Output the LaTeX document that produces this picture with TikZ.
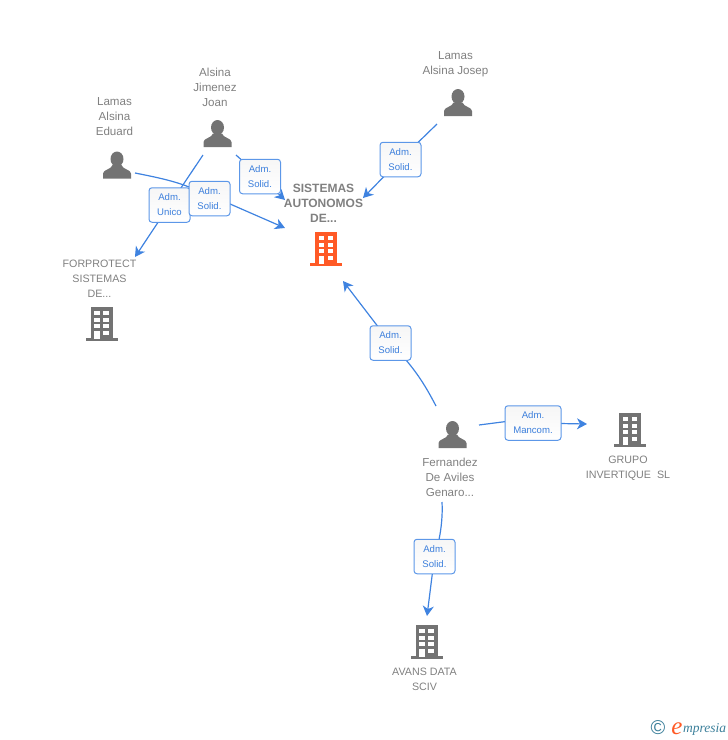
\documentclass[tikz,border=0pt]{standalone}
\usepackage{fontspec}
\setmainfont{Liberation Sans}
\newfontfamily\logofont{Liberation Serif}
\usetikzlibrary{arrows.meta}
\definecolor{txtgrey}{HTML}{808080}
\definecolor{icongrey}{HTML}{737373}
\definecolor{corp}{HTML}{FF5A26}
\definecolor{linkblue}{HTML}{3F83E0}
\definecolor{lblblue}{HTML}{3C7FDC}
\definecolor{boxblue}{HTML}{5C97E8}
\definecolor{logoteal}{HTML}{3B7F9A}
\newcommand{\personshape}{%
  \begin{scope}[shift={(path picture bounding box.center)}]
    \fill[icongrey] (0,-6) ellipse (6.5 and 7.5);
    \fill[icongrey] (-14,13.5) -- (-14,8.5) .. controls (-14,4.5) and (-5.5,4.5) .. (-4.5,0) -- (4.5,0) .. controls (5.5,4.5) and (14,4.5) .. (14,8.5) -- (14,13.5) -- cycle;
  \end{scope}}
\newcommand{\buildingshape}[1]{%
  \begin{scope}[shift={(path picture bounding box.center)}]
    \fill[#1] (-16,14) rectangle (16,17);
    \fill[#1] (-11,-17) rectangle (11,14.5);
    \foreach \yy in {-13.5,-6.5,-0.5}{
      \fill[white] (-7.5,\yy) rectangle (-2,\yy+4.5);
      \fill[white] (1.8,\yy) rectangle (7.3,\yy+4.5);}
    \fill[white] (-7.5,7) rectangle (-2,14.5);
    \fill[white] (1.8,6.5) rectangle (7.3,11);
  \end{scope}}
\tikzset{
  x=1pt,y=-1pt,
  person/.style={inner sep=0pt,minimum width=30pt,minimum height=30pt,path picture={\personshape}},
  building/.style={inner sep=0pt,minimum width=34pt,minimum height=36pt,path picture={\buildingshape{#1}}},
  caption/.style={text=txtgrey,align=center,inner sep=0pt,font=\fontsize{11.6}{15}\selectfont},
  capscaption/.style={caption,font=\fontsize{10.7}{15}\selectfont},
  link/.style={draw=linkblue,line width=1.2pt},
  linkarrow/.style={link,-{Stealth[length=10pt,width=11pt,inset=3pt]}},
  role/.style={draw=boxblue,line width=1pt,rounded corners=3pt,top color=gray!7,bottom color=white,
    text=lblblue,align=center,inner sep=0pt,minimum height=34.5pt,font=\fontsize{9.6}{15}\selectfont},
  rolewide/.style={role,minimum width=41pt},
}
\begin{document}
\begin{tikzpicture}
\useasboundingbox (0,0) rectangle (728,740);
% icons
\node[person] (eduard) at (117,165) {};
\node[person] (joan) at (217.5,133.5) {};
\node[person] (josep) at (458,102.5) {};
\node[person] (genaro) at (452.5,434.5) {};
\node[building=corp] (sistemas) at (326,249) {};
\node[building=icongrey] (forprotect) at (101.5,324) {};
\node[building=icongrey] (grupo) at (630,430) {};
\node[building=icongrey] (avans) at (426.5,642) {};
% captions
\node[caption] (eduardtxt) at (114.5,117) {Lamas\\Alsina\\Eduard};
\node[caption] (joantxt) at (215,87) {Alsina\\Jimenez\\Joan};
\node[caption] (joseptxt) at (455.5,64.5) {Lamas\\Alsina Josep};
\node[caption,font=\fontsize{12}{15}\selectfont\bfseries] (sistemastxt) at (323.5,203) {SISTEMAS\\AUTONOMOS\\DE...};
\node[capscaption] (forprotecttxt) at (99.5,279) {FORPROTECT\\SISTEMAS\\DE...};
\node[caption] (genarotxt) at (450,477) {Fernandez\\De Aviles\\Genaro...};
\node[capscaption] (grupotxt) at (628,468) {GRUPO\\INVERTIQUE\ \ SL};
\node[capscaption] (avanstxt) at (424.5,679) {AVANS DATA\\SCIV};
% role boxes positions
\coordinate (posjoan) at (260,176.5);
\coordinate (posunico) at (169.5,205);
\coordinate (poseduard) at (209.5,198.5);
% free ends of the connectors, placed from the icons
\coordinate (eduardout) at ([shift={(18,8)}]eduard.center);
\coordinate (joanoutA) at ([shift={(-14.5,21.5)}]joan.center);
\coordinate (joanoutB) at ([shift={(18.5,21.5)}]joan.center);
\coordinate (josepout) at ([shift={(-21,21.5)}]josep.center);
\coordinate (genaroout) at ([shift={(-16.5,-28.5)}]genaro.center);
\coordinate (genaroright) at ([shift={(26.5,-9.5)}]genaro.center);
\coordinate (genarodown) at ([shift={(-10.5,67.5)}]genaro.center);
\coordinate (sistemasinA) at ([shift={(-41,-49)}]sistemas.center);
\coordinate (sistemasinB) at ([shift={(-41,-21)}]sistemas.center);
\coordinate (sistemasinC) at ([shift={(37,-51)}]sistemas.center);
\coordinate (sistemasinD) at ([shift={(17,32)}]sistemas.center);
\coordinate (forprotectin) at ([shift={(33.5,-67)}]forprotect.center);
\coordinate (grupoin) at ([shift={(-43,-6)}]grupo.center);
\coordinate (avansin) at ([shift={(0.5,-26)}]avans.center);
% connectors
\draw[link] (joanoutA) -- (posunico);
\draw[linkarrow] (posunico) -- (forprotectin);
\draw[link] (eduardout) .. controls (160,178) and (192,184) .. (poseduard);
\draw[linkarrow] ([yshift=3.5pt]poseduard) -- (sistemasinB);
\draw[link] (joanoutB) -- (posjoan);
\draw[linkarrow] (posjoan) -- (sistemasinA);
\node[rolewide] (unico) at (posunico) {Adm.\\Unico};
\node[rolewide] (rEduard) at (poseduard) {Adm.\\Solid.};
\node[rolewide] (rJoan) at (posjoan) {Adm.\\Solid.};
\coordinate (posjosep) at (400.5,159.5);
\draw[link] (josepout) -- (posjosep);
\draw[linkarrow] (posjosep) -- (sistemasinC);
\node[rolewide] (rJosep) at (posjosep) {Adm.\\Solid.};
\coordinate (posgenaro) at (390.5,343);
\draw[link] (genaroout) .. controls (425,385) and (415,368) .. (posgenaro);
\draw[linkarrow] (posgenaro) -- (sistemasinD);
\node[rolewide] (rGenaro) at (posgenaro) {Adm.\\Solid.};
\coordinate (posmancom) at (533,423);
\draw[link] (genaroright) -- ([yshift=5pt]posmancom);
\draw[linkarrow] (posmancom) -- (grupoin);
\node[role,minimum width=56pt] (rMancom) at (posmancom) {Adm.\\Mancom.};
\coordinate (posavans) at (434.5,556.5);
\draw[link] (genarodown) .. controls (443,520) and (440,540) .. (posavans);
\draw[linkarrow] (posavans) -- (avansin);
\node[rolewide] (rAvans) at (posavans) {Adm.\\Solid.};
% logo
\node[text=logoteal,inner sep=0pt,font=\fontsize{20}{20}\selectfont] (logoc) at (658,728) {©};
\node[text=corp,inner sep=0pt,font=\logofont\itshape\fontsize{25}{25}\selectfont] (logoe) at (677,729) {e};
\node[text=logoteal,inner sep=0pt,anchor=west,font=\logofont\itshape\fontsize{13.5}{14}\selectfont] (logot) at (683,729) {mpresia};
\end{tikzpicture}
\end{document}
